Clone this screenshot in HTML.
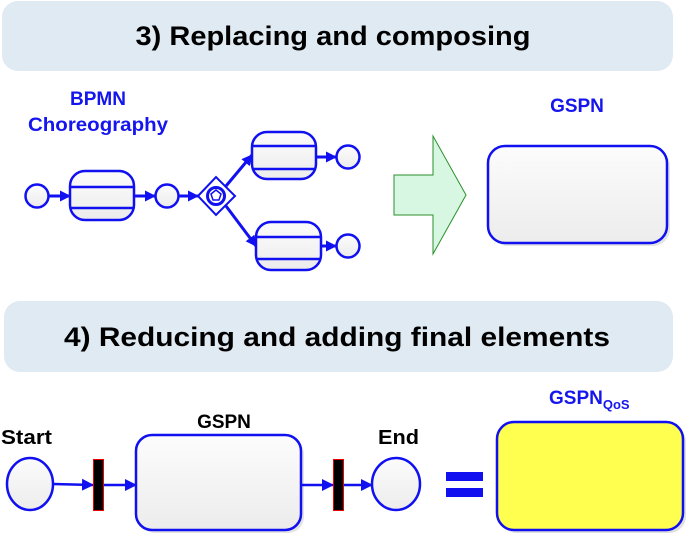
<!DOCTYPE html>
<html><head><meta charset="utf-8"><style>
html,body{margin:0;padding:0;background:#fff;width:689px;height:537px;overflow:hidden}
text{font-family:"Liberation Sans",Arial,sans-serif;font-weight:bold}
</style></head><body>
<svg width="689" height="537" viewBox="0 0 689 537" xmlns="http://www.w3.org/2000/svg">
<defs>
<marker id="a" markerWidth="11" markerHeight="11" refX="10" refY="5.5" orient="auto" markerUnits="userSpaceOnUse"><path d="M0,0 L11,5.5 L0,11 z" fill="#1010f0"/></marker>
<marker id="b" markerWidth="12" markerHeight="12" refX="11" refY="6" orient="auto" markerUnits="userSpaceOnUse"><path d="M0,0 L12,6 L0,12 z" fill="#1010f0"/></marker>
<linearGradient id="g" x1="0" y1="0" x2="0" y2="1"><stop offset="0" stop-color="#fcfcfc"/><stop offset="1" stop-color="#ececec"/></linearGradient>
</defs>
<rect x="2" y="1" width="671" height="70" rx="16" fill="#e0eaf3"/>
<text x="333" y="45" font-size="27" text-anchor="middle" textLength="395" lengthAdjust="spacingAndGlyphs">3) Replacing and composing</text>
<rect x="4" y="301" width="669" height="71" rx="16" fill="#e0eaf3"/>
<text x="64" y="346" font-size="27" textLength="546" lengthAdjust="spacingAndGlyphs">4)  Reducing and adding final elements</text>

<text x="98" y="105" font-size="19" fill="#1515ee" text-anchor="middle">BPMN</text>
<text x="98" y="131" font-size="19" fill="#1515ee" text-anchor="middle" textLength="140" lengthAdjust="spacingAndGlyphs">Choreography</text>
<g stroke="#1010f0" stroke-width="2.5" fill="url(#g)">
<circle cx="37" cy="196" r="11.5"/>
<rect x="70" y="171" width="64" height="49" rx="15"/>
<line x1="70" y1="187" x2="134" y2="187"/><line x1="70" y1="208" x2="134" y2="208"/>
<circle cx="167" cy="196" r="11.5"/>
<rect x="252" y="132" width="64" height="47" rx="15"/>
<line x1="252" y1="146" x2="316" y2="146"/><line x1="252" y1="169" x2="316" y2="169"/>
<circle cx="348" cy="157" r="11.5"/>
<rect x="256" y="222" width="65" height="48" rx="15"/>
<line x1="256" y1="237" x2="321" y2="237"/><line x1="256" y1="259" x2="321" y2="259"/>
<circle cx="348" cy="246" r="11.5"/>
</g>
<g stroke="#1010f0" stroke-width="2.5" fill="none">
<path d="M198,196 L216,177 L235,196 L216,215 Z" stroke-width="2"/>
<circle cx="216" cy="196" r="8.5" stroke-width="3"/>
<path d="M216,190 L221,194 L219,200 L213,200 L211,194 Z" stroke-width="1.5"/>
<line x1="49" y1="196" x2="70" y2="196" marker-end="url(#a)" stroke-width="3"/>
<line x1="134" y1="196" x2="155" y2="196" marker-end="url(#a)" stroke-width="3"/>
<line x1="179" y1="196" x2="198" y2="196" marker-end="url(#a)" stroke-width="3"/>
<line x1="226" y1="186" x2="252" y2="155" marker-end="url(#a)" stroke-width="3"/>
<line x1="226" y1="206" x2="256" y2="246" marker-end="url(#a)" stroke-width="3"/>
<line x1="316" y1="157" x2="336" y2="157" marker-end="url(#a)" stroke-width="3"/>
<line x1="321" y1="246" x2="336" y2="246" marker-end="url(#a)" stroke-width="3"/>
</g>
<path d="M394,175 L433,175 L433,136 L466,195 L433,254 L433,215 L394,215 Z" fill="#d8f7e2" stroke="#2a8f2a" stroke-width="1"/>
<text x="577" y="112" font-size="19" fill="#1515ee" text-anchor="middle">GSPN</text>
<rect x="491" y="149" width="179" height="97" rx="17" fill="#e4e4e4"/>
<rect x="488" y="146" width="179" height="97" rx="17" fill="url(#g)" stroke="#1010f0" stroke-width="2.5"/>

<text x="1" y="444" font-size="20" fill="#000" textLength="51" lengthAdjust="spacingAndGlyphs">Start</text>
<text x="224" y="428" font-size="19" fill="#000" text-anchor="middle">GSPN</text>
<text x="378" y="444" font-size="20" fill="#000" textLength="41" lengthAdjust="spacingAndGlyphs">End</text>
<text x="549" y="404" font-size="19" fill="#1515ee">GSPN<tspan font-size="13" dy="5">QoS</tspan></text>
<ellipse cx="30" cy="484" rx="23" ry="26" fill="url(#g)" stroke="#1010f0" stroke-width="2.5"/>
<ellipse cx="396" cy="484" rx="24" ry="26" fill="url(#g)" stroke="#1010f0" stroke-width="2.5"/>
<rect x="139" y="438" width="165" height="95" rx="16" fill="#e4e4e4"/>
<rect x="136" y="435" width="165" height="95" rx="16" fill="url(#g)" stroke="#1010f0" stroke-width="2.5"/>
<g stroke="#1010f0" stroke-width="2.5" fill="none">
<line x1="53" y1="484" x2="93" y2="485" marker-end="url(#b)"/>
<line x1="103" y1="485" x2="136" y2="485" marker-end="url(#b)"/>
<line x1="301" y1="485" x2="333" y2="485" marker-end="url(#b)"/>
<line x1="344" y1="485" x2="372" y2="485" marker-end="url(#b)"/>
</g>
<rect x="93.5" y="459.5" width="10" height="51" fill="#000" stroke="#e00" stroke-width="1"/>
<rect x="333.5" y="459.5" width="10" height="51" fill="#000" stroke="#e00" stroke-width="1"/>
<rect x="446" y="472" width="37" height="9" fill="#1010f0"/>
<rect x="446" y="488" width="37" height="9" fill="#1010f0"/>
<rect x="500" y="425" width="186" height="108" rx="17" fill="#e0e0e0"/>
<rect x="497" y="422" width="186" height="108" rx="17" fill="#ffff50" stroke="#1010f0" stroke-width="2.5"/>
</svg>
</body></html>
